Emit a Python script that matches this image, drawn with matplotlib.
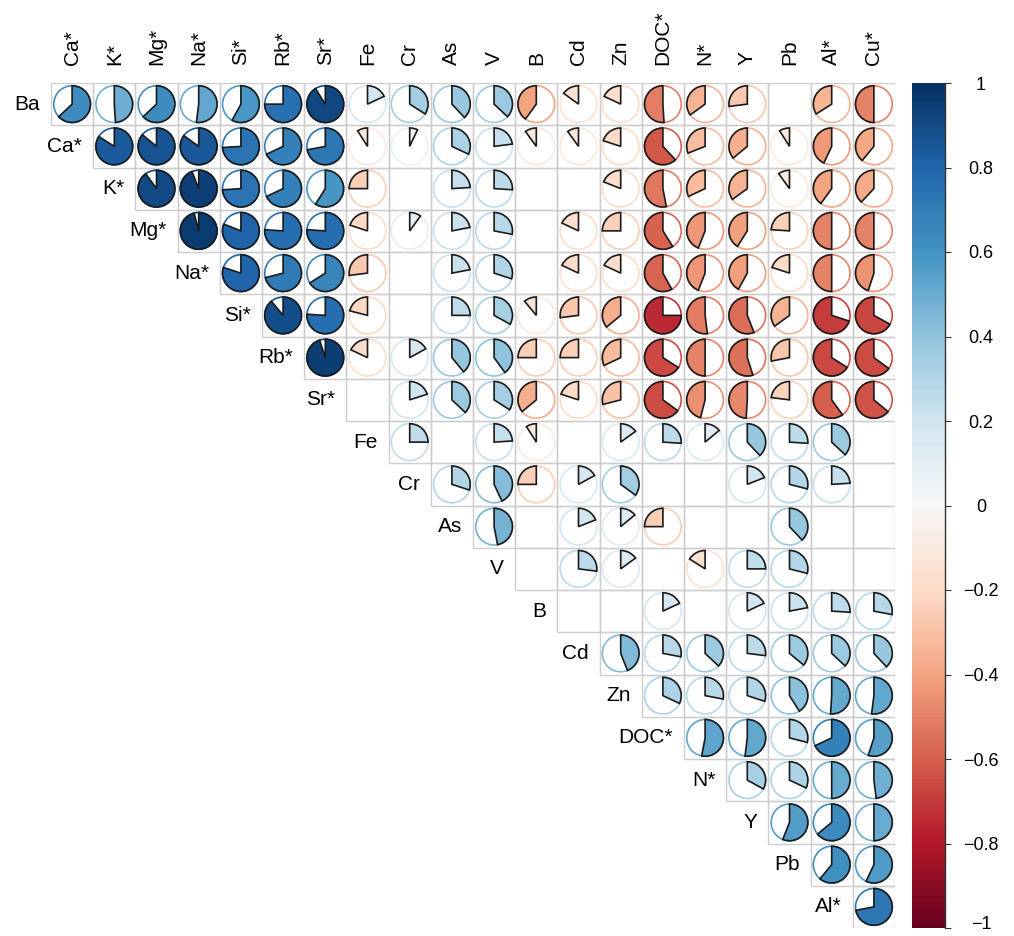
import matplotlib
matplotlib.use("Agg")
import matplotlib.pyplot as plt
import matplotlib.transforms as mtransforms
from matplotlib.patches import Wedge, Circle, Rectangle
from matplotlib.colors import Normalize
from matplotlib.cm import ScalarMappable

plt.rcParams['font.family'] = ['Liberation Sans', 'DejaVu Sans']

labels = ["Ba", "Ca*", "K*", "Mg*", "Na*", "Si*", "Rb*", "Sr*", "Fe", "Cr", "As",
          "V", "B", "Cd", "Zn", "DOC*", "N*", "Y", "Pb", "Al*", "Cu*"]

# Upper-triangle correlations, row by row (each row starts at the next variable); None = blank
r_Ba  = [0.63, 0.49, 0.63, 0.52, 0.58, 0.75, 0.91, 0.18, 0.34, 0.38, 0.37, -0.40, -0.15, -0.18, -0.51, -0.35, -0.27, None, -0.34, -0.50]
r_Ca  = [0.84, 0.86, 0.85, 0.74, 0.68, 0.72, -0.09, 0.07, 0.32, 0.23, -0.10, -0.10, -0.20, -0.62, -0.31, -0.36, -0.09, -0.43, -0.39]
r_K   = [0.90, 0.94, 0.74, 0.68, 0.59, -0.25, None, 0.24, 0.26, None, None, -0.19, -0.53, -0.32, -0.35, -0.10, -0.40, -0.38]
r_Mg  = [0.96, 0.81, 0.76, 0.76, -0.20, 0.10, 0.22, 0.28, None, -0.18, -0.25, -0.59, -0.44, -0.41, -0.24, -0.50, -0.50]
r_Na  = [0.80, 0.71, 0.66, -0.27, None, 0.22, 0.30, None, -0.18, -0.18, -0.58, -0.44, -0.42, -0.20, -0.50, -0.45]
r_Si  = [0.89, 0.76, -0.21, None, 0.25, 0.33, -0.11, -0.27, -0.36, -0.75, -0.52, -0.56, -0.35, -0.70, -0.67]
r_Rb  = [0.95, -0.18, 0.17, 0.39, 0.40, -0.25, -0.25, -0.32, -0.66, -0.50, -0.55, -0.28, -0.66, -0.65]
r_Sr  = [None, 0.20, 0.37, 0.34, -0.36, -0.20, -0.29, -0.65, -0.46, -0.49, -0.23, -0.60, -0.64]
r_Fe  = [0.25, None, 0.24, -0.09, None, 0.15, 0.26, 0.14, 0.38, 0.26, 0.37, None]
r_Cr  = [0.30, 0.43, -0.25, 0.17, 0.35, None, None, 0.19, 0.29, 0.24, None]
r_As  = [0.47, None, 0.19, 0.14, -0.25, None, None, 0.38, None, None]
r_V   = [None, 0.27, 0.15, None, -0.16, 0.25, 0.29, None, None]
r_B   = [None, None, 0.18, None, 0.18, 0.22, 0.26, 0.28]
r_Cd  = [0.44, 0.28, 0.37, 0.27, 0.36, 0.37, 0.38]
r_Zn  = [0.32, 0.28, 0.30, 0.41, 0.51, 0.52]
r_DOC = [0.53, 0.52, 0.29, 0.68, 0.55]
r_N   = [0.33, 0.32, 0.50, 0.48]
r_Y   = [0.56, 0.64, 0.50]
r_Pb  = [0.61, 0.57]
r_Al  = [0.72]

rows = [r_Ba, r_Ca, r_K, r_Mg, r_Na, r_Si, r_Rb, r_Sr, r_Fe, r_Cr, r_As,
        r_V, r_B, r_Cd, r_Zn, r_DOC, r_N, r_Y, r_Pb, r_Al]

cbar_ticks = [1, 0.8, 0.6, 0.4, 0.2, 0, -0.2, -0.4, -0.6, -0.8, -1]
cbar_ticklabels = ["1", "0.8", "0.6", "0.4", "0.2", "0", "\u22120.2", "\u22120.4",
                   "\u22120.6", "\u22120.8", "\u22121"]

W, H = 1014, 936
fig = plt.figure(figsize=(W / 100, H / 100), dpi=100)
ax = fig.add_axes([51 / W, 1 - 928 / H, 844 / W, 845 / H])

n = len(rows)
cmap = plt.get_cmap("RdBu")
norm = Normalize(-1, 1)
rad = 0.435
fs = 15

ax.set_xlim(-0.5, n - 0.5)
ax.set_ylim(-0.5, n - 0.5)
ax.axis("off")

for i, vals in enumerate(rows):
    y = n - 1 - i
    for k, v in enumerate(vals):
        x = i + k
        ax.add_patch(Rectangle((x - 0.5, y - 0.5), 1, 1, facecolor="none",
                               edgecolor="#CDCDCD", lw=1.0, zorder=1))
        if v is None:
            continue
        c = cmap(norm(v))
        ax.add_patch(Circle((x, y), rad, facecolor="none", edgecolor=c, lw=1.2, zorder=2))
        if v >= 0:
            t1, t2 = 90 - 360 * v, 90
        else:
            t1, t2 = 90, 90 + 360 * abs(v)
        ax.add_patch(Wedge((x, y), rad, t1, t2, facecolor=c, edgecolor="#1a1a1a",
                           lw=1.2, zorder=3))
    # row label
    ax.text(i - 0.5 - 0.26, y, labels[i], ha="right", va="center", fontsize=fs,
            clip_on=False)

# column labels at top
for j in range(n):
    ax.text(j, n - 0.5 + 0.42, labels[j + 1], rotation=90, ha="center", va="bottom",
            fontsize=fs, clip_on=False)

# colorbar
cax = fig.add_axes([912 / W, 1 - 928 / H, 33 / W, 845 / H])
sm = ScalarMappable(norm=norm, cmap=cmap)
cb = fig.colorbar(sm, cax=cax, ticks=cbar_ticks)
cb.set_ticklabels(cbar_ticklabels)
cb.outline.set_visible(False)
cax.plot([1, 1], [0, 1], transform=cax.transAxes, color="#333333", lw=1.0, clip_on=False)
cax.tick_params(axis="y", direction="out", length=4, width=0.8, color="#333333",
                labelsize=13, pad=22)
for lab in cax.get_yticklabels():
    lab.set_horizontalalignment("center")
    if lab.get_text() == "\u22121":
        lab.set_transform(lab.get_transform() +
                          mtransforms.ScaledTranslation(0, 4 / 72, fig.dpi_scale_trans))

fig.savefig("out.png", dpi=100)
